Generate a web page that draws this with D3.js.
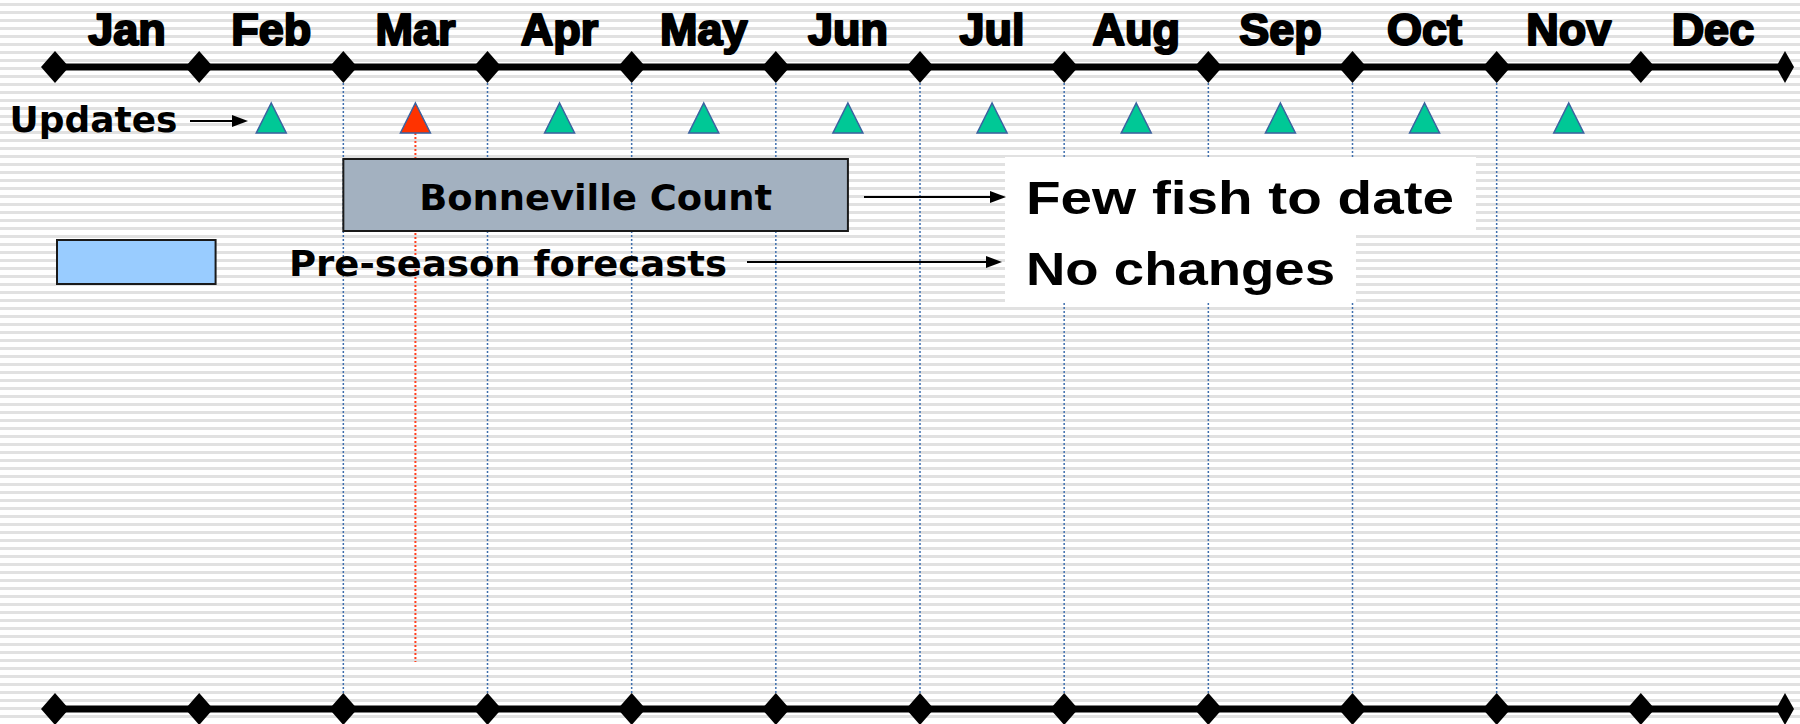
<!DOCTYPE html>
<html>
<head>
<meta charset="utf-8">
<script src="https://cdn.jsdelivr.net/npm/d3@7"></script>
<style>
html, body { margin: 0; padding: 0; background: #fff; }
svg { display: block; }
</style>
</head>
<body>
<svg id="chart"></svg>
<script>
var months = ['Jan', 'Feb', 'Mar', 'Apr', 'May', 'Jun', 'Jul', 'Aug', 'Sep', 'Oct', 'Nov', 'Dec'];
var gridMonths = [2, 3, 4, 5, 6, 7, 8, 9, 10];
var updateMonths = [1.5, 2.5, 3.5, 4.5, 5.5, 6.5, 7.5, 8.5, 9.5, 10.5];
var currentUpdate = 2.5;
var bonnevilleSpan = [2, 5.5];
var forecastSpan = [0, 1.1];
var noteLines = ['Few fish to date', 'No changes'];

var $svg = {width: 1800, height: 724};
var $x = d3.scaleLinear().domain([0, 12]).range([55, 1785]);
var $axisY = [67, 709];
var $bodyFont = '"DejaVu Sans", Verdana, sans-serif';
var $noteFont = '"Liberation Sans", Arial, sans-serif';

function init () {
    $svg.main = (
        d3.select('svg#chart')
        .attr('width', $svg.width)
        .attr('height', $svg.height)
    );
    drawBackground();
    drawGrid();
    drawNotes();
    drawAxes();
    drawUpdates();
    drawBoxes();
    drawArrows();
}

function drawBackground () {
    $svg.main.append('rect')
        .attr('width', $svg.width).attr('height', $svg.height)
        .attr('fill', '#fff');
    $svg.main.append('g').selectAll('rect')
        .data(d3.range(4, $svg.height, 8))
        .join('rect')
        .attr('x', 0).attr('y', d => d - 1)
        .attr('width', $svg.width).attr('height', 3)
        .attr('fill', '#e1e1e1');
}

function drawGrid () {
    $svg.main.append('g').selectAll('line')
        .data(gridMonths)
        .join('line')
        .attr('x1', d => $x(d)).attr('x2', d => $x(d))
        .attr('y1', $axisY[0] + 16).attr('y2', $axisY[1] - 16)
        .attr('stroke', '#3f6fae')
        .attr('stroke-width', 1.5)
        .attr('stroke-dasharray', '2,2');
    // the current update
    $svg.main.append('line')
        .attr('x1', $x(currentUpdate)).attr('x2', $x(currentUpdate))
        .attr('y1', 133).attr('y2', 662)
        .attr('stroke', '#ff4020')
        .attr('stroke-width', 2)
        .attr('stroke-dasharray', '2,2');
}

function drawNotes () {
    var boxes = [
        {x: 1005, y: 157, w: 471, h: 78},
        {x: 1005, y: 235, w: 351, h: 67},
    ];
    var widths = [428, 309];
    var baselines = [214, 285];
    $svg.main.append('g').selectAll('rect')
        .data(boxes)
        .join('rect')
        .attr('x', d => d.x).attr('y', d => d.y)
        .attr('width', d => d.w).attr('height', d => d.h)
        .attr('fill', '#fff');
    $svg.main.append('g').selectAll('text')
        .data(noteLines)
        .join('text')
        .attr('x', 1026)
        .attr('y', (d, i) => baselines[i])
        .attr('textLength', (d, i) => widths[i])
        .attr('lengthAdjust', 'spacingAndGlyphs')
        .attr('font-family', $noteFont)
        .attr('font-weight', 'bold')
        .attr('font-size', 47)
        .text(d => d);
}

function diamond (cx, cy, hw, hh) {
    return `M${cx - hw},${cy} L${cx},${cy - hh} L${cx + hw},${cy} L${cx},${cy + hh} Z`;
}

function drawAxes () {
    var ticks = $x.ticks(12);
    $axisY.forEach((y) => {
        var g = $svg.main.append('g');
        g.append('line')
            .attr('x1', $x(0)).attr('x2', $x(12))
            .attr('y1', y).attr('y2', y)
            .attr('stroke', '#000')
            .attr('stroke-width', 7);
        g.selectAll('path')
            .data(ticks)
            .join('path')
            .attr('d', d => diamond($x(d), y, d === 12 ? 9 : 14, 16))
            .attr('fill', '#000');
    });
    // heavy condensed month names
    $svg.main.append('g').selectAll('text')
        .data(months)
        .join('text')
        .attr('x', (d, i) => $x(i + 0.5))
        .attr('y', 45)
        .attr('text-anchor', 'middle')
        .attr('font-family', $noteFont)
        .attr('font-weight', 'bold')
        .attr('font-size', 45)
        .attr('stroke', '#000')
        .attr('stroke-width', 2.2)
        .attr('stroke-linejoin', 'round')
        .text(d => d);
}

function drawUpdates () {
    $svg.main.append('g').selectAll('path')
        .data(updateMonths)
        .join('path')
        .attr('d', d => `M${$x(d)},103 L${$x(d) + 15},133 L${$x(d) - 15},133 Z`)
        .attr('fill', d => d === currentUpdate ? '#ff3300' : '#00c896')
        .attr('stroke', '#3b62a0')
        .attr('stroke-width', 1.5);
    $svg.main.append('text')
        .attr('x', 9.5).attr('y', 132)
        .attr('textLength', 168)
        .attr('lengthAdjust', 'spacingAndGlyphs')
        .attr('font-family', $bodyFont)
        .attr('font-weight', 'bold')
        .attr('font-size', 36)
        .text('Updates');
}

function drawBoxes () {
    $svg.main.append('rect')
        .attr('x', $x(bonnevilleSpan[0])).attr('y', 159)
        .attr('width', $x(bonnevilleSpan[1]) - $x(bonnevilleSpan[0]))
        .attr('height', 72)
        .attr('fill', '#a3b1c0')
        .attr('stroke', '#1a1a1a')
        .attr('stroke-width', 2);
    $svg.main.append('text')
        .attr('x', ($x(bonnevilleSpan[0]) + $x(bonnevilleSpan[1])) / 2)
        .attr('y', 210)
        .attr('text-anchor', 'middle')
        .attr('textLength', 353)
        .attr('lengthAdjust', 'spacingAndGlyphs')
        .attr('font-family', $bodyFont)
        .attr('font-weight', 'bold')
        .attr('font-size', 35)
        .text('Bonneville Count');

    $svg.main.append('rect')
        .attr('x', $x(forecastSpan[0]) + 2).attr('y', 240)
        .attr('width', $x(forecastSpan[1]) - $x(forecastSpan[0]))
        .attr('height', 44)
        .attr('fill', '#99ccff')
        .attr('stroke', '#1a1a1a')
        .attr('stroke-width', 2);
    $svg.main.append('text')
        .attr('x', 289).attr('y', 276)
        .attr('textLength', 438)
        .attr('lengthAdjust', 'spacingAndGlyphs')
        .attr('font-family', $bodyFont)
        .attr('font-weight', 'bold')
        .attr('font-size', 35)
        .text('Pre-season forecasts');
}

function drawArrows () {
    var arrows = [
        [190, 248, 121],
        [864, 1006, 197],
        [747, 1002, 262],
    ];
    var g = $svg.main.append('g');
    arrows.forEach(([x1, x2, y]) => {
        g.append('line')
            .attr('x1', x1).attr('x2', x2 - 12)
            .attr('y1', y).attr('y2', y)
            .attr('stroke', '#000')
            .attr('stroke-width', 2);
        g.append('path')
            .attr('d', `M${x2},${y} L${x2 - 16},${y - 6} L${x2 - 16},${y + 6} Z`)
            .attr('fill', '#000');
    });
}

init();
</script>
</body>
</html>
